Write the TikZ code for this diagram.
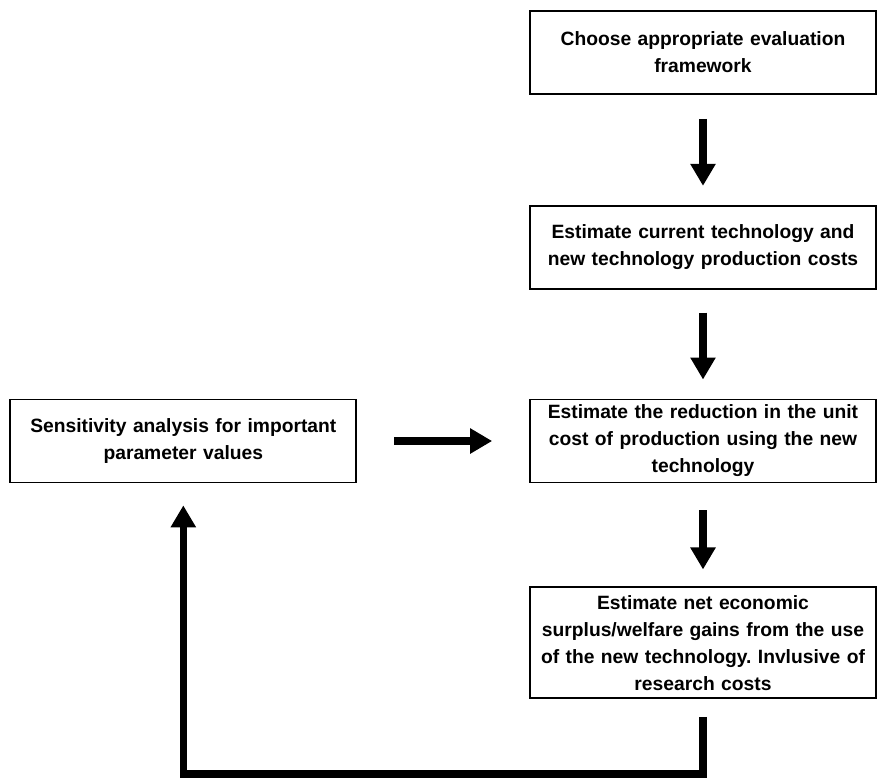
\documentclass[tikz,border=0pt]{standalone}
\usepackage{fontspec}
\setmainfont{Liberation Sans}
\usetikzlibrary{positioning,arrows.meta}
\hyphenpenalty=10000
\frenchspacing

\begin{document}
\begin{tikzpicture}[node distance=2.725cm,
        box/.style={draw, line width=1.2pt, text width=8.55cm, align=center,
            minimum height=2.075cm, inner xsep=0.05cm, inner ysep=4pt,
            font=\fontsize{13.7}{19.2}\selectfont\bfseries},
        flow/.style={line width=0.18cm, -{Triangle[width=0.6cm,length=0.55cm]}}]
        \useasboundingbox (0,0) rectangle (21.925,-19.45);

        \node (choose) [box] at (17.575,-1.3125) {Choose appropriate evaluation\\framework};
        \node (costs) [box, below=2.75cm of choose] {Estimate current technology and\\new technology production costs};
        \node (unit) [box, below=of costs] {Estimate the reduction in the unit\\cost of production using the new\\technology};
        \node (net) [box, below=2.575cm of unit, inner ysep=5.5pt] {Estimate net economic\\surplus/welfare gains from the use\\of the new technology. Invlusive of\\research costs};
        \node (sens) [box, left=4.3cm of unit] {Sensitivity analysis for important\\parameter values};
        \coordinate (bottom) at (0,-19.35);

        \path [flow] (choose) edge [shorten <=0.6cm, shorten >=0.475cm] (costs)
                     (costs) edge [shorten <=0.575cm, shorten >=0.475cm] (unit)
                     (unit) edge [shorten <=0.675cm, shorten >=0.425cm] (net)
                     (sens) edge [shorten <=0.925cm, shorten >=0.925cm] (unit);
        \draw [flow, shorten <=0.45cm, shorten >=0.55cm] (net.south) -- (net.south |- bottom) -| (sens.south);
    \end{tikzpicture}
\end{document}
